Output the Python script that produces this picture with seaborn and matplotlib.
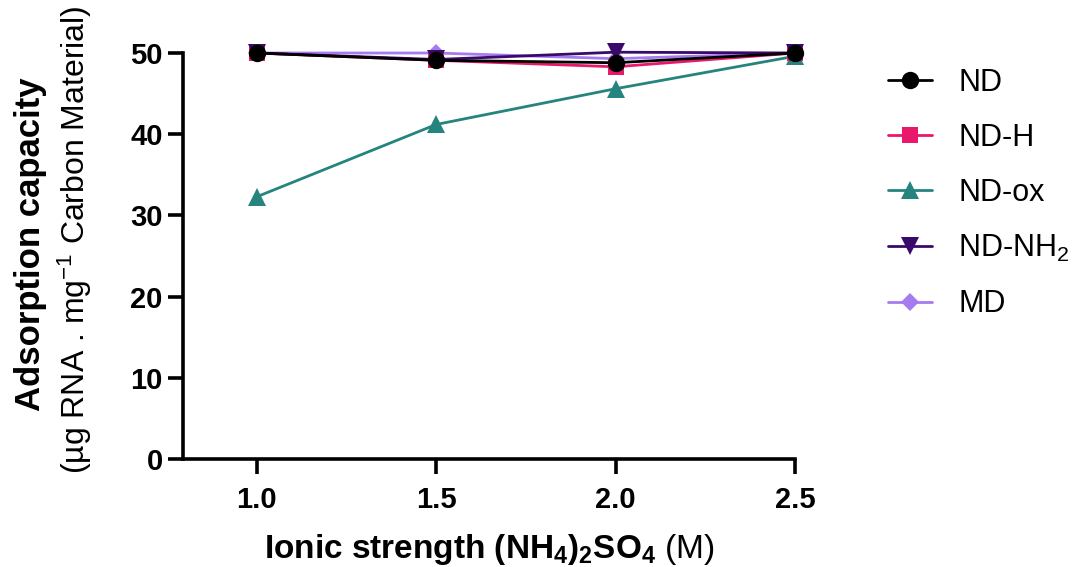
import matplotlib
matplotlib.use("Agg")
import matplotlib.pyplot as plt
import seaborn as sns
import pandas as pd
from matplotlib.lines import Line2D

ionic = [1.0, 1.5, 2.0, 2.5]
series_names = ["ND", "ND-H", "ND-ox", "ND-NH2", "MD"]
nd = [50.0, 49.1, 48.8, 50.0]
nd_h = [50.0, 49.1, 48.3, 50.0]
nd_ox = [32.3, 41.2, 45.6, 49.6]
nd_nh2 = [50.0, 49.2, 50.1, 50.0]
md = [50.0, 50.0, 49.3, 50.0]
values = {"ND": nd, "ND-H": nd_h, "ND-ox": nd_ox, "ND-NH2": nd_nh2, "MD": md}
legend_labels = ["ND", "ND-H", "ND-ox", r"ND-NH$_2$", "MD"]
yticks = [0, 10, 20, 30, 40, 50]
xticks = [1.0, 1.5, 2.0, 2.5]

colors = {"ND": "#000000", "ND-H": "#e8186a", "ND-ox": "#25847e",
          "ND-NH2": "#3a0a6b", "MD": "#a57cf0"}
markers = {"ND": "o", "ND-H": "s", "ND-ox": "^", "ND-NH2": "v", "MD": "D"}
msizes = {"ND": 12.5, "ND-H": 12, "ND-ox": 13, "ND-NH2": 13, "MD": 9}

rows = []
for s in series_names:
    for x, v in zip(ionic, values[s]):
        rows.append({"x": x, "y": v, "series": s})
df = pd.DataFrame(rows)

sns.set_theme(style="ticks")
plt.rcParams["font.family"] = ["Liberation Sans", "DejaVu Sans"]
plt.rcParams["mathtext.fontset"] = "custom"
plt.rcParams["mathtext.rm"] = "Liberation Sans"
plt.rcParams["mathtext.it"] = "Liberation Sans:italic"
plt.rcParams["mathtext.bf"] = "Liberation Sans:bold"

fig = plt.figure(figsize=(10.79, 5.67), dpi=100)
ax = fig.add_axes([183 / 1079, 1 - 459 / 567, (795 - 183) / 1079, (459 - 53) / 567])

draw_order = ["ND-ox", "MD", "ND-H", "ND-NH2", "ND"]
for s in draw_order:
    sub = df[df["series"] == s]
    sns.lineplot(data=sub, x="x", y="y", ax=ax, color=colors[s], marker=markers[s],
                 markersize=msizes[s], markeredgewidth=0, linewidth=2.0,
                 clip_on=False, legend=False, zorder=3)

ax.set_xlim(0.794, 2.5)
ax.set_ylim(0, 50)
ax.set_xticks(xticks)
ax.set_xticklabels([f"{t:.1f}" for t in xticks])
ax.set_yticks(yticks)
ax.set_yticklabels([str(t) for t in yticks])
for sp in ["top", "right"]:
    ax.spines[sp].set_visible(False)
for sp in ["left", "bottom"]:
    ax.spines[sp].set_linewidth(2.6)
    ax.spines[sp].set_color("black")
ax.tick_params(axis="both", direction="out", width=2.6, length=10.5, color="black",
               labelsize=21, pad=4, labelcolor="black")
ax.tick_params(axis="x", pad=9)
for lab in ax.get_xticklabels() + ax.get_yticklabels():
    lab.set_fontweight("bold")

ax.set_xlabel(r"$\mathbf{Ionic\ strength\ (NH_4)_2SO_4}$ (M)", fontsize=24,
              labelpad=13, color="black")
ax.set_ylabel("")
fig.text(31 / 1079, 1 - 244 / 567, "Adsorption capacity", rotation=90, fontsize=25,
         fontweight="bold", ha="center", va="center", color="black")
fig.text(75 / 1079, 1 - 240 / 567, r"(µg RNA . mg$^{-1}$ Carbon Material)", rotation=90,
         fontsize=23, ha="center", va="center", color="black")

handles = [Line2D([0], [0], color=colors[s], marker=markers[s], markersize=msizes[s],
                  markeredgewidth=0, linewidth=2.0) for s in series_names]
leg = fig.legend(handles, legend_labels, loc="upper left",
                 bbox_to_anchor=(888 / 1079, 1 - 68 / 567), frameon=False,
                 fontsize=22, handlelength=1.45, labelspacing=0.82, handletextpad=0.85,
                 borderpad=0, borderaxespad=0)
for t in leg.get_texts():
    t.set_color("black")

fig.savefig("out.png", dpi=100)
